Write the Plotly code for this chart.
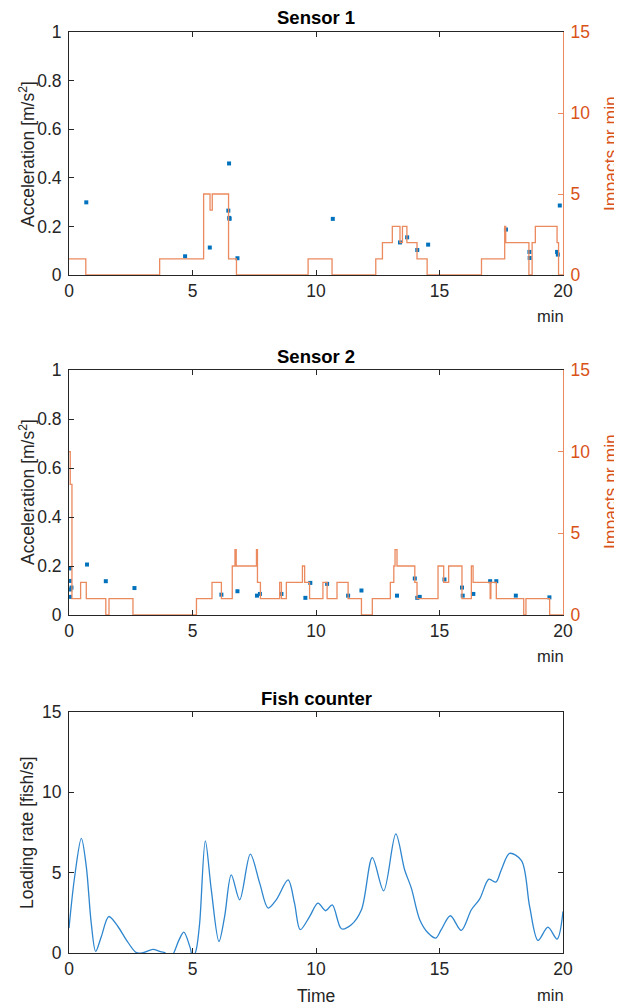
import plotly.graph_objects as go

# ---------------- data ----------------
# Sensor 1: accelerations of impacts (min, m/s^2)
s1_t = [0.70, 4.70, 5.70, 6.48, 6.45, 6.49, 6.50, 6.82, 10.68, 13.40, 13.69, 14.10, 14.54,
        17.69, 18.64, 18.65, 19.87, 19.76, 19.79]
s1_a = [0.299, 0.077, 0.113, 0.459, 0.265, 0.235, 0.231, 0.069, 0.231, 0.134, 0.155, 0.103, 0.125,
        0.187, 0.095, 0.070, 0.286, 0.095, 0.084]
# Sensor 1: impacts per minute (stairs)
s1_step_t = [0, 0.68, 3.67, 5.45, 5.71, 5.80, 6.46, 6.78, 9.68, 10.65, 12.42, 12.69, 13.09, 13.40,
             13.50, 13.68, 14.09, 14.50, 16.70, 17.64, 17.68, 18.62, 18.75, 18.88, 19.76, 19.82, 20]
s1_step_v = [1, 0, 1, 5, 4, 5, 1, 0, 1, 0, 1, 2, 3, 2,
             3, 2, 1, 0, 1, 3, 2, 0, 2, 3, 2, 0, 0]

# Sensor 2
s2_t = [0.03, 0.03, 0.05, 0.10, 0.04, 0.73, 1.49, 2.65, 6.17, 6.82, 7.61, 7.73, 8.60, 9.57, 9.77,
        10.45, 11.30, 11.84, 13.28, 14.00, 14.10, 14.20, 15.20, 15.91, 15.94, 16.37, 17.05, 17.30,
        18.09, 19.45]
s2_a = [0.190, 0.139, 0.104, 0.112, 0.074, 0.206, 0.138, 0.110, 0.083, 0.097, 0.079, 0.086, 0.086,
        0.070, 0.131, 0.127, 0.079, 0.100, 0.079, 0.149, 0.070, 0.074, 0.145, 0.112, 0.079, 0.086,
        0.138, 0.138, 0.079, 0.072]
s2_step_t = [0, 0.05, 0.12, 0.47, 0.70, 1.49, 1.62, 2.59, 5.16, 5.79, 6.17, 6.61, 6.72, 6.77, 7.59,
             7.63, 7.75, 8.53, 8.60, 8.80, 9.45, 9.54, 9.74, 10.28, 10.45, 10.85, 11.30, 11.84, 12.28,
             13.01, 13.15, 13.20, 13.28, 14.00, 14.09, 14.94, 15.17, 15.37, 15.91, 16.29, 16.36,
             17.05, 17.08, 17.30, 18.41, 18.50, 19.46, 20]
s2_step_v = [10, 8, 1, 2, 1, 0, 1, 0, 1, 2, 1, 3, 4, 3, 4,
             2, 1, 2, 1, 2, 3, 2, 1, 2, 1, 2, 1, 0, 1,
             2, 3, 4, 3, 2, 1, 3, 2, 3, 1, 3, 2,
             1, 2, 1, 0, 1, 0, 0]

# Fish counter: loading rate (fish/s)
fish_t = [0, 0.23, 0.5, 0.70, 0.9, 1.08, 1.31, 1.61, 1.98, 2.32, 2.73, 3.0, 3.4, 3.67, 3.9, 4.05,
          4.24, 4.45, 4.65, 4.89, 5.02, 5.15, 5.29, 5.52, 5.76, 6.07, 6.3, 6.57, 6.91, 7.34, 7.72,
          8.06, 8.39, 8.87, 9.13, 9.36, 9.74, 10.08, 10.39, 10.66, 11.03, 11.43, 11.84, 12.28,
          12.74, 13.23, 13.59, 13.86, 14.2, 14.54, 14.85, 15.07, 15.44, 15.88, 16.29, 16.63, 17.0,
          17.28, 17.5, 17.84, 18.32, 18.65, 18.99, 19.39, 19.76, 20.0]
fish_v = [1.55, 4.76, 7.14, 5.38, 1.86, 0.1, 1.03, 2.27, 1.65, 0.82, 0.02, 0.02, 0.22, 0.1, 0.0, -0.4,
          0.0, 0.8, 1.3, 0.41, -0.3, 0.2, 1.86, 6.98, 3.94, 0.72, 2.27, 4.86, 3.31, 6.15, 4.35,
          2.8, 3.31, 4.55, 3.1, 1.45, 2.27, 3.1, 2.63, 3.0, 1.51, 1.76, 2.69, 5.94,
          3.87, 7.41, 5.17, 4.04, 2.07, 1.24, 0.93, 1.45, 2.32, 1.41, 2.69, 3.37, 4.6,
          4.41, 5.17, 6.2, 5.75, 2.88, 0.78, 1.61, 0.87, 2.59]

x_ticks = [0, 5, 10, 15, 20]
acc_ticks = [0, 0.2, 0.4, 0.6, 0.8, 1]
imp_ticks = [0, 5, 10, 15]
fish_ticks = [0, 5, 10, 15]

# ---------------- style ----------------
BLUE = "#0072BD"
ORANGE = "#D95319"
ORANGE_LINE = "#EB8A5F"
AX = "#262626"
FONT = "Liberation Sans, Arial, sans-serif"
FS = 17.5

fig = go.Figure()

fig.add_trace(go.Scatter(x=s1_t, y=s1_a, mode="markers", xaxis="x", yaxis="y",
                         marker=dict(symbol="square", size=4, color=BLUE), showlegend=False))
fig.add_trace(go.Scatter(x=s1_step_t, y=s1_step_v, mode="lines", line_shape="hv", xaxis="x", yaxis="y2",
                         line=dict(color=ORANGE_LINE, width=1.3), showlegend=False))
fig.add_trace(go.Scatter(x=s2_t, y=s2_a, mode="markers", xaxis="x2", yaxis="y3",
                         marker=dict(symbol="square", size=4, color=BLUE), showlegend=False))
fig.add_trace(go.Scatter(x=s2_step_t, y=s2_step_v, mode="lines", line_shape="hv", xaxis="x2", yaxis="y4",
                         line=dict(color=ORANGE_LINE, width=1.3), showlegend=False))
fig.add_trace(go.Scatter(x=fish_t, y=fish_v, mode="lines", line_shape="spline", xaxis="x3", yaxis="y5",
                         line=dict(color="#2E86CF", width=1.3, smoothing=0.9), showlegend=False))

# The page body has an 8px margin, so the figure is 8px smaller and everything is offset by -8.
OFF = 8
W, HT = 622 - OFF, 1006 - OFF
L = 69 - OFF
R = W - (563 - OFF)
T = 32 - OFF
B = HT - (953 - OFF)
H = HT - T - B
PW = W - L - R


def yp(pix):
    return (HT - B - (pix - OFF)) / H


def xp(pix):
    return (pix - OFF - L) / PW


d1 = [yp(275), 1.0]
d2 = [yp(615), yp(370)]
d3 = [0.0, yp(712)]

xcommon = dict(range=[0, 20], tickvals=x_ticks, ticks="inside", ticklen=5, tickcolor=AX,
               showline=True, linecolor=AX, linewidth=1, mirror="ticks", showgrid=False,
               zeroline=False, tickfont=dict(family=FONT, size=FS, color=AX))
ycommon = dict(ticks="inside", ticklen=5, tickcolor=AX, showline=True, linecolor=AX, linewidth=1,
               showgrid=False, zeroline=False, tickfont=dict(family=FONT, size=FS, color=AX),
               ticklabelstandoff=3)
yright = dict(side="right", range=[0, 15], tickvals=imp_ticks, ticks="inside", ticklen=5,
              tickcolor=ORANGE_LINE, showline=True, linecolor=ORANGE_LINE, linewidth=1,
              showgrid=False, zeroline=False, tickfont=dict(family=FONT, size=FS, color=ORANGE),
              ticklabelstandoff=3)

fig.update_layout(
    width=W, height=HT,
    margin=dict(l=L, r=R, t=T, b=B, autoexpand=False),
    paper_bgcolor="white", plot_bgcolor="white",
    showlegend=False,
    xaxis=dict(domain=[0, 1], anchor="y", **xcommon),
    yaxis=dict(domain=d1, anchor="x", range=[0, 1], tickvals=acc_ticks, **ycommon),
    yaxis2=dict(overlaying="y", anchor="x", **yright),
    xaxis2=dict(domain=[0, 1], anchor="y3", **xcommon),
    yaxis3=dict(domain=d2, anchor="x2", range=[0, 1], tickvals=acc_ticks, **ycommon),
    yaxis4=dict(overlaying="y3", anchor="x2", **yright),
    xaxis3=dict(domain=[0, 1], anchor="y5", **xcommon),
    yaxis5=dict(domain=d3, anchor="x3", range=[0, 15], tickvals=fish_ticks, mirror="ticks", **ycommon),
)

ann = []
# titles
for text, ypix in [("Sensor 1", 18), ("Sensor 2", 356), ("Fish counter", 698)]:
    ann.append(dict(text=f"<b>{text}</b>", x=0.5, y=yp(ypix), xref="paper", yref="paper",
                    showarrow=False, xanchor="center", yanchor="middle",
                    font=dict(family=FONT, size=18.5, color="black")))
# left axis titles
for text, ypix in [("Acceleration [m/s<sup>2</sup>]", 154), ("Acceleration [m/s<sup>2</sup>]", 492),
                   ("Loading rate [fish/s]", 833)]:
    ann.append(dict(text=text, x=xp(27), y=yp(ypix), xref="paper", yref="paper", textangle=-90,
                    showarrow=False, xanchor="center", yanchor="middle",
                    font=dict(family=FONT, size=FS, color=AX)))
# right axis titles
for ypix in [154, 492]:
    ann.append(dict(text="Impacts pr min", x=xp(611), y=yp(ypix), xref="paper", yref="paper",
                    textangle=-90, showarrow=False, xanchor="center", yanchor="middle",
                    font=dict(family=FONT, size=FS, color=ORANGE)))
# "min" labels
for ypix in [316, 656, 995]:
    ann.append(dict(text="min", x=xp(550), y=yp(ypix), xref="paper", yref="paper",
                    showarrow=False, xanchor="center", yanchor="middle",
                    font=dict(family=FONT, size=16.5, color=AX)))
ann.append(dict(text="Time", x=0.5, y=yp(996), xref="paper", yref="paper", showarrow=False,
                xanchor="center", yanchor="middle", font=dict(family=FONT, size=FS, color=AX)))
fig.update_layout(annotations=ann)

fig.write_html("out.html")
